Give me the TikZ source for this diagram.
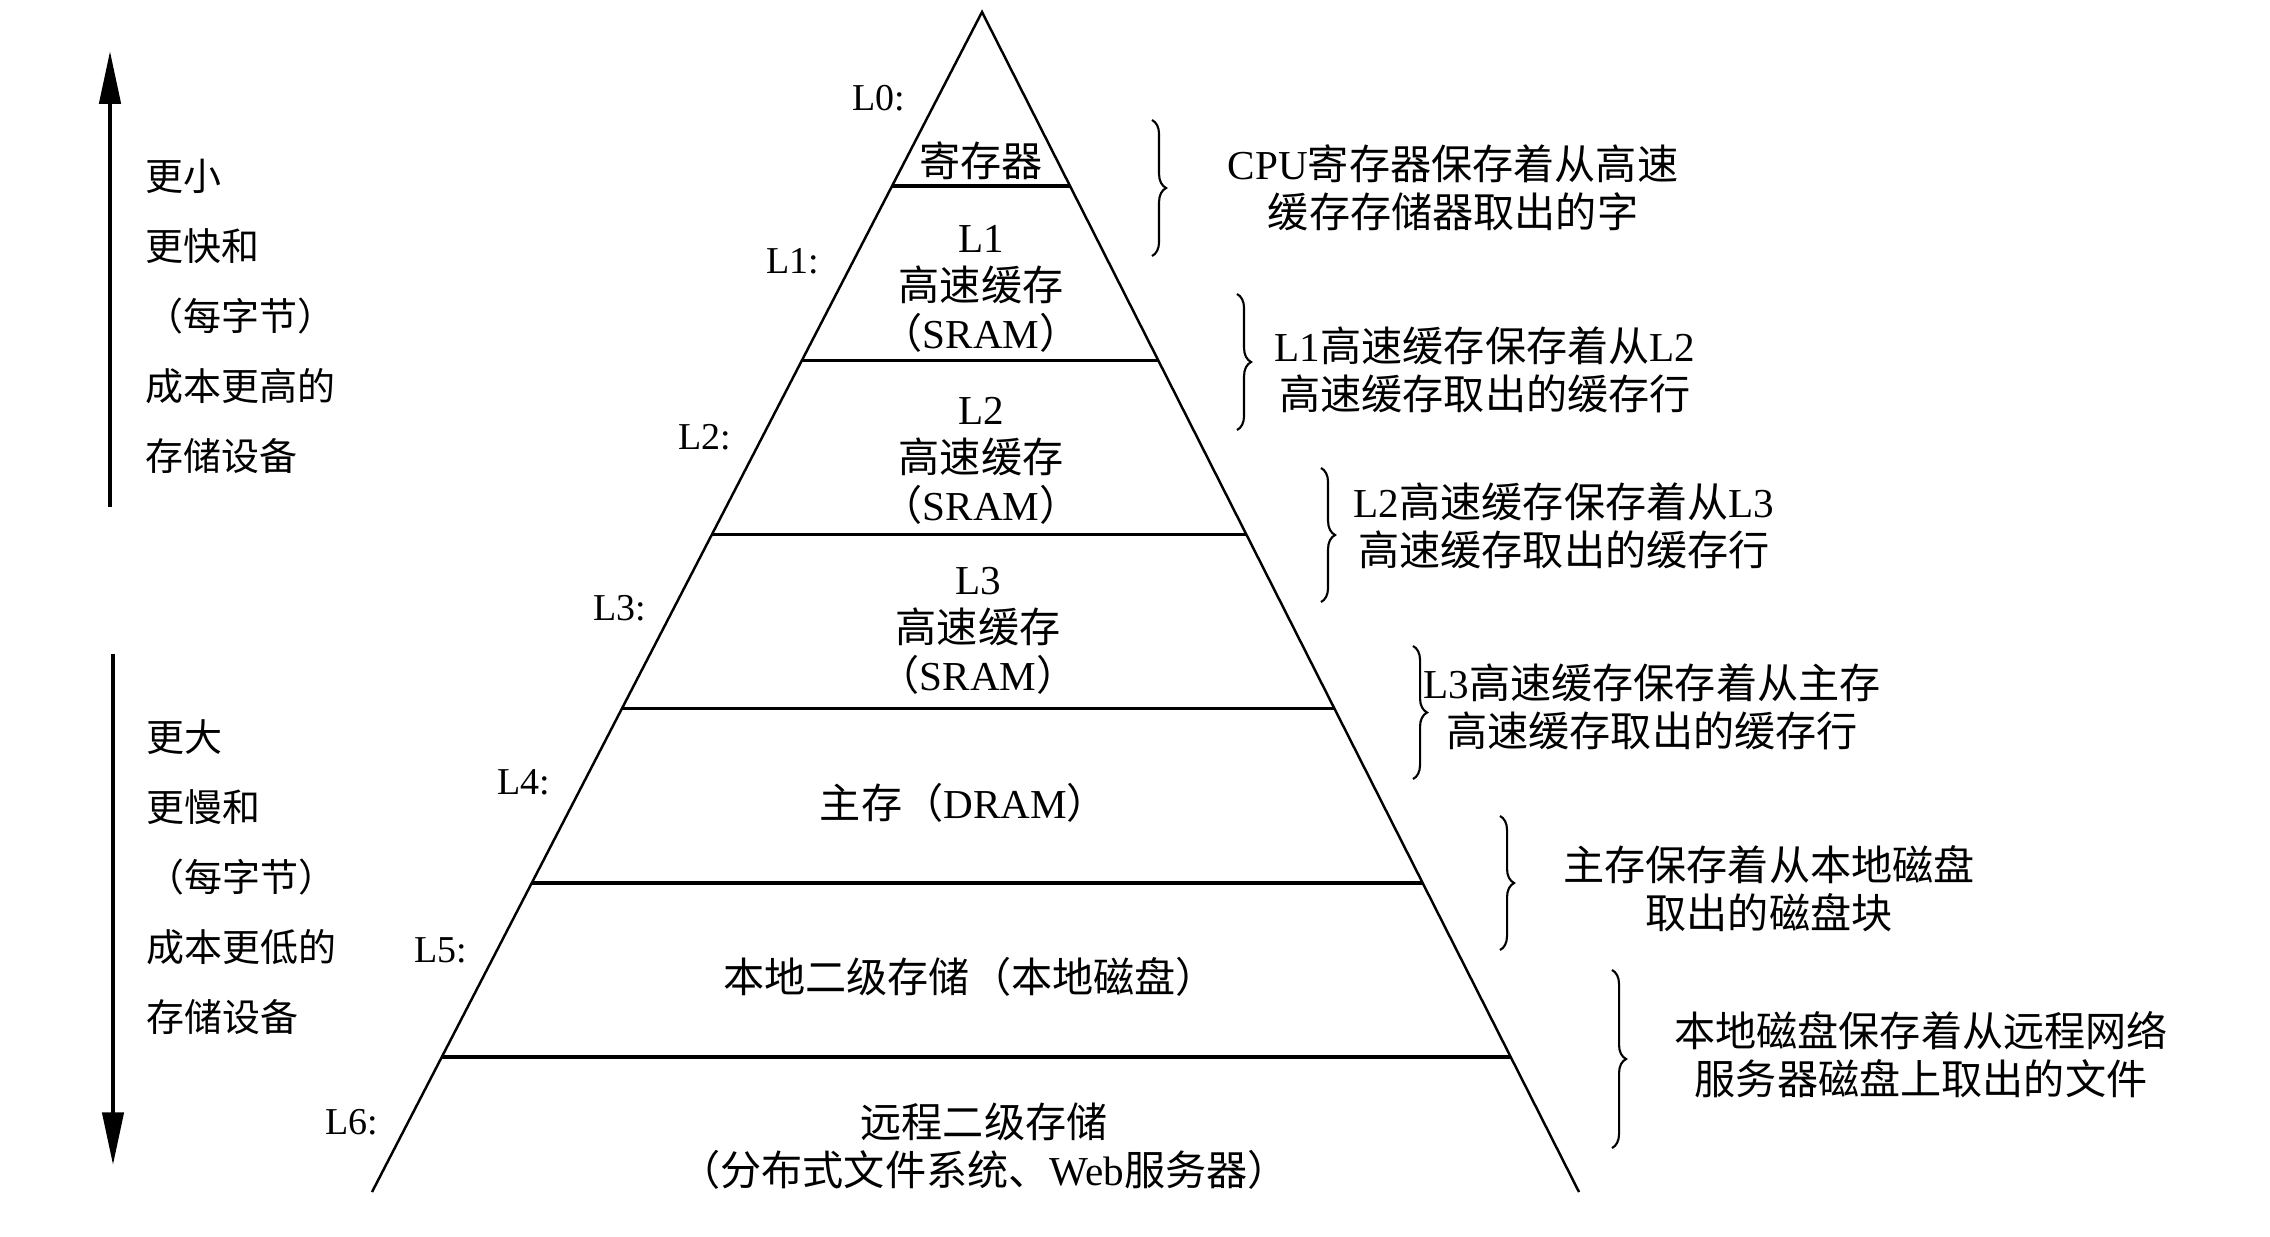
\documentclass[tikz,border=0pt]{standalone}
\usepackage{fontspec}
\setmainfont{Liberation Serif}
\newfontfamily\zhfont{Noto Sans CJK SC}
\usetikzlibrary{arrows.meta,calc,decorations.pathreplacing}
\newcommand{\zh}[1]{{\zhfont #1}}

\begin{document}
\begin{tikzpicture}[x=0.01cm, y=-0.01cm,
  txt/.style={font=\fontsize{11.7}{13.6}\selectfont, align=center, inner sep=0pt},
  lvl/.style={font=\fontsize{10.8}{13}\selectfont, inner sep=0pt},
  side/.style={font=\fontsize{10.8}{19.9}\selectfont, align=left, inner sep=0pt, anchor=west},
  cbrace/.style={line width=0.6pt, decorate, decoration={brace, amplitude=4pt}},
  bigarrow/.style={line width=1.2pt, -{Triangle[length=15pt,width=6pt]}}]
\useasboundingbox (0,0) rectangle (2270,1236);
\fill[white] (0,0) rectangle (2270,1236);

% pyramid
\coordinate (apex) at (982,12);
\coordinate (bl) at (372,1192);
\coordinate (br) at (1579,1192);
\draw[line width=0.7pt] (bl) -- (apex) -- (br);
\foreach \k in {1,...,6}
  \draw[line width=1pt] ($(apex)!\k*0.1476!(bl)$) -- ($(apex)!\k*0.1476!(br)$);

\node[lvl] (n0) at (879,98) {L0:};
\node[lvl] (n1) at (793,261) {L1:};
\node[lvl] (n2) at (705,437) {L2:};
\node[lvl] (n3) at (620,608) {L3:};
\node[lvl] (n4) at (524,782) {L4:};
\node[lvl] (n5) at (441,950) {L5:};
\node[lvl] (n6) at (352,1122) {L6:};

\node[txt] (reg) at (981,161) {\zh{寄存器}};
\node[txt] (c1) at (981,289) {L1\\\zh{高速缓存}\\\zh{（}SRAM\zh{）}};
\node[txt] (c2) at (981,461) {L2\\\zh{高速缓存}\\\zh{（}SRAM\zh{）}};
\node[txt] (c3) at (978,631) {L3\\\zh{高速缓存}\\\zh{（}SRAM\zh{）}};
\node[txt] (mem) at (964,803) {\zh{主存（}DRAM\zh{）}};
\node[txt] (disk) at (970,977) {\zh{本地二级存储（本地磁盘）}};
\node[txt] (remote) at (984,1146) {\zh{远程二级存储}\\\zh{（分布式文件系统、}Web\zh{服务器）}};

% braces on the right
\coordinate (b1t) at (1152,120);  \coordinate (b1b) at (1152,256);
\coordinate (b2t) at (1237,294);  \coordinate (b2b) at (1237,430);
\coordinate (b3t) at (1321,468);  \coordinate (b3b) at (1321,602);
\coordinate (b4t) at (1413,646);  \coordinate (b4b) at (1413,779);
\coordinate (b5t) at (1500,816);  \coordinate (b5b) at (1500,950);
\coordinate (b6t) at (1612,970);  \coordinate (b6b) at (1612,1148);
\foreach \i in {1,...,6}
  \draw[cbrace] (b\i t) -- (b\i b);

\node[txt] (d1) at (1453,188) {CPU\zh{寄存器保存着从高速}\\\zh{缓存存储器取出的字}};
\node[txt] (d2) at (1485,370) {L1\zh{高速缓存保存着从}L2\\\zh{高速缓存取出的缓存行}};
\node[txt] (d3) at (1564,526) {L2\zh{高速缓存保存着从}L3\\\zh{高速缓存取出的缓存行}};
\node[txt] (d4) at (1652,707) {L3\zh{高速缓存保存着从主存}\\\zh{高速缓存取出的缓存行}};
\node[txt] (d5) at (1769,889) {\zh{主存保存着从本地磁盘}\\\zh{取出的磁盘块}};
\node[txt] (d6) at (1921,1055) {\zh{本地磁盘保存着从远程网络}\\\zh{服务器磁盘上取出的文件}};

% arrows on the left
\coordinate (upfrom) at (110,507);  \coordinate (upto) at (110,51);
\coordinate (downfrom) at (113,654);  \coordinate (downto) at (113,1165);
\draw[bigarrow] (upfrom) -- (upto);
\draw[bigarrow] (downfrom) -- (downto);

\node[side] (fast) at (145,316) {\zh{更小}\\\zh{更快和}\\\zh{（每字节）}\\\zh{成本更高的}\\\zh{存储设备}};
\node[side] (slow) at (146,877) {\zh{更大}\\\zh{更慢和}\\\zh{（每字节）}\\\zh{成本更低的}\\\zh{存储设备}};
\end{tikzpicture}
\end{document}
